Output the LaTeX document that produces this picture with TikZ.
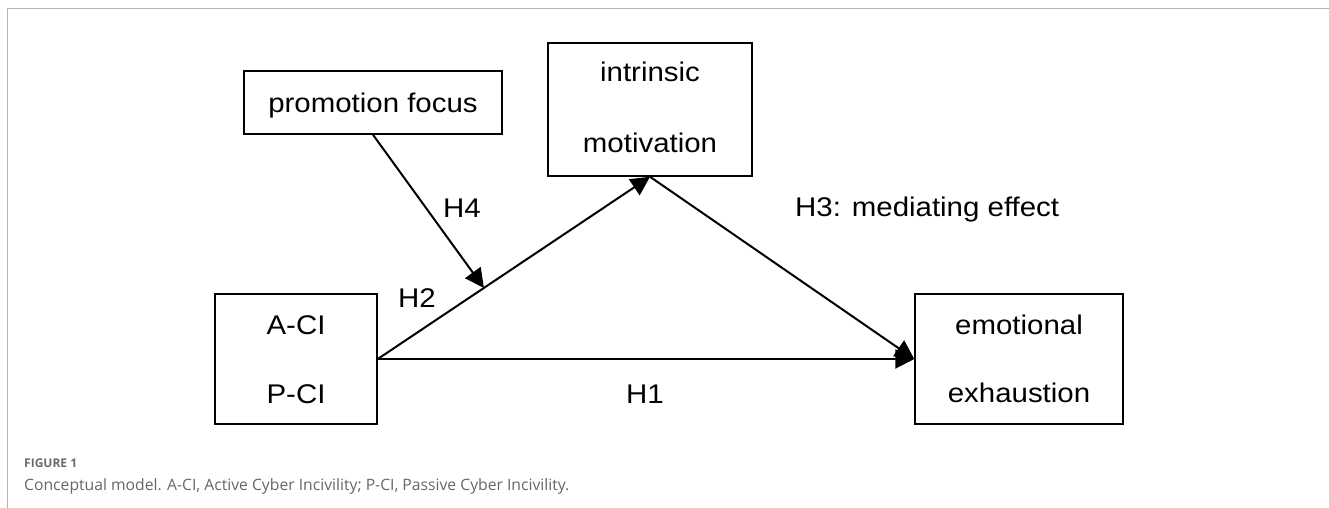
\documentclass[tikz,border=0pt]{standalone}
\usepackage{fontspec}
\setmainfont{Liberation Sans}
\newfontfamily\diagfont[FakeStretch=1.09]{Liberation Sans}
\newfontfamily\capfont{Open Sans}
\usetikzlibrary{arrows.meta,calc}
\definecolor{framegray}{HTML}{B4B4B4}
\definecolor{figgray}{HTML}{6A6A6A}
\definecolor{capgray}{HTML}{666666}
\begin{document}
\begin{tikzpicture}[x=1pt,y=-1pt,
  box/.style={draw=black, line width=1.5pt, inner sep=0pt, fill=none},
  lbl/.style={font=\diagfont\fontsize{27}{27}\selectfont, inner sep=0pt},
  arr/.style={line width=2pt, -{Triangle[length=19pt,width=19pt]}},
]
\useasboundingbox (0,0) rectangle (1329,508);
\draw[framegray, line width=1pt] (7,508) -- (7,9) -- (1329,9);

% boxes
\node[box, minimum width=258pt, minimum height=63pt] (promo) at (373,102.5) {};
\node[box, minimum width=204pt, minimum height=133pt] (intr) at (650,109.5) {};
\node[box, minimum width=162pt, minimum height=130pt] (aci) at (296,359) {};
\node[box, minimum width=208pt, minimum height=130pt] (emo) at (1019,359) {};

% box texts
\node[lbl, anchor=base] (tpromo) at (373,113) {promotion focus};
\node[lbl, anchor=base] (tintr1) at (650,82) {intrinsic};
\node[lbl, anchor=base] (tintr2) at (650,152) {motivation};
\node[lbl, anchor=base] (taci1) at (296,334) {A-CI};
\node[lbl, anchor=base] (taci2) at (296,403) {P-CI};
\node[lbl, anchor=base] (temo1) at (1019,334) {emotional};
\node[lbl, anchor=base] (temo2) at (1019,402) {exhaustion};

% connectors
\draw[arr] (aci.east) -- (emo.west);
\draw[arr] (aci.east) -- (intr.south);
\draw[arr] (intr.south) -- (emo.west);
\coordinate (mod) at ($(aci.east)!0.39!(intr.south)$);
\draw[arr] (promo.south) -- (mod);

% hypothesis labels
\node[lbl, anchor=base west] (h4) at (443,217) {H4};
\node[lbl, anchor=base west] (h2) at (398,307) {H2};
\node[lbl, anchor=base] (h1) at (645,403) {H1};
\node[lbl, anchor=base west] (h3) at (795,216) {H3: mediating effect};

% caption
\node[anchor=base west, inner sep=0pt, text=figgray, font=\capfont\bfseries\fontsize{12}{12}\selectfont] (fig) at (24,467) {FIGURE 1};
\node[anchor=base west, inner sep=0pt, text=capgray, font=\capfont\fontsize{15.7}{15.7}\selectfont] (cap) at (24,490) {Conceptual model. A-CI, Active Cyber Incivility; P-CI, Passive Cyber Incivility.};
\end{tikzpicture}
\end{document}
